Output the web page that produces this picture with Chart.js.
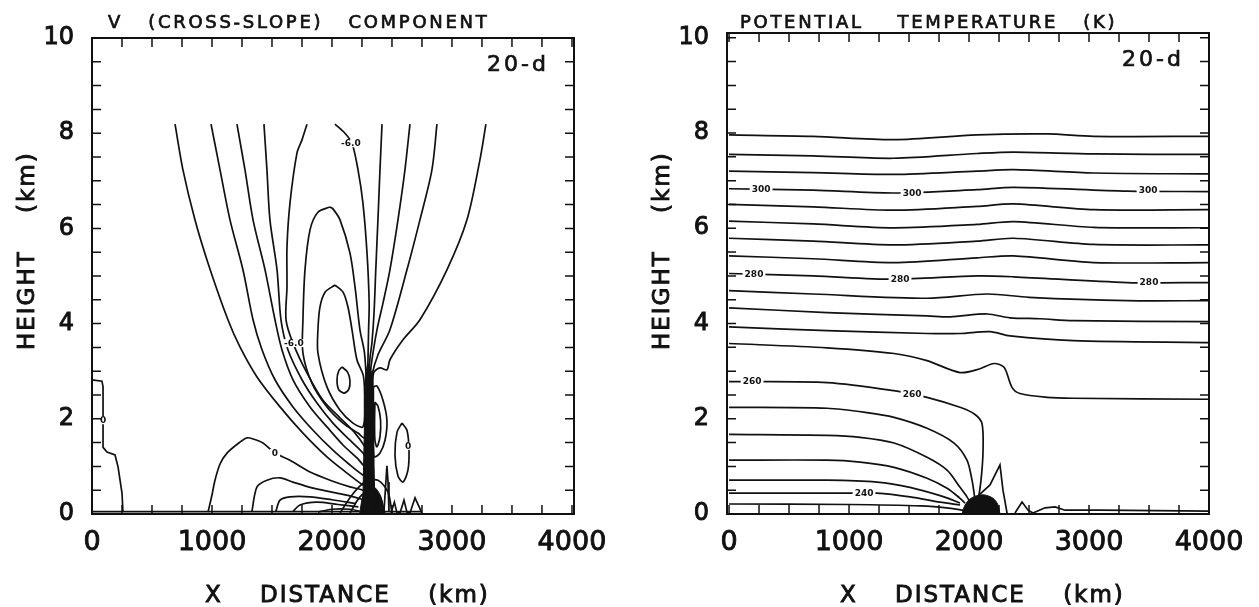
<!DOCTYPE html>
<html>
<head>
<meta charset="utf-8">
<script src="https://cdn.jsdelivr.net/npm/chart.js@4.4.1/dist/chart.umd.min.js"></script>
<style>
  html, body { margin: 0; padding: 0; background: #fff; }
  #wrap { position: relative; width: 1259px; height: 607px; }
  canvas { position: absolute; top: 0; }
  #vChart { left: 0; }
  #thetaChart { left: 630px; }
</style>
</head>
<body>
<div id="wrap">
  <canvas id="vChart" width="630" height="607"></canvas>
  <canvas id="thetaChart" width="629" height="607"></canvas>
</div>
<script>
// axis ticks (km)
const xTicks = [0, 1000, 2000, 3000, 4000];
const yTicks = [0, 2, 4, 6, 8, 10];

// ---- v (cross-slope) contours, [x km, height km] ----
// nested open contours: down from the top on the left, through the jet core, back up on the right
const vU1 = [[692,8.19],[758,7.23],[858,6.18],[967,5.27],[1133,4.08],[1233,3.51],[1375,2.88],[1567,2.25],[1758,1.70],[1958,1.20],[2125,0.86],[2258,0.61],[2333,0.55],[2345,1.1],[2340,2.0],[2340,2.75],[2350,2.98],[2400,3.07],[2458,3.03],[2483,3.24],[2592,3.66],[2733,4.08],[2958,5.13],[3125,6.18],[3233,7.44],[3283,8.19]];
const vU2 = [[992,8.19],[1067,7.23],[1150,6.18],[1258,5.13],[1342,4.08],[1417,3.45],[1525,2.82],[1675,2.25],[1842,1.76],[2008,1.34],[2150,1.03],[2258,0.82],[2317,0.76],[2330,1.3],[2328,2.0],[2330,2.7],[2333,2.92],[2383,3.34],[2483,3.87],[2625,5.13],[2733,6.18],[2833,7.23],[2875,8.19]];
const vU3 = [[1208,8.19],[1275,7.23],[1342,6.18],[1442,5.13],[1525,4.08],[1583,3.45],[1675,2.82],[1817,2.25],[1958,1.83],[2092,1.45],[2208,1.18],[2292,0.97],[2315,1.4],[2315,2.2],[2318,2.9],[2333,3.24],[2375,3.87],[2425,4.43],[2483,5.13],[2550,6.18],[2608,7.23],[2650,8.19]];
const vU4 = [[1433,8.19],[1458,7.23],[1483,6.18],[1542,5.13],[1575,4.08],[1633,3.45],[1750,2.82],[1875,2.33],[2008,1.91],[2150,1.55],[2258,1.28],[2300,1.09],[2303,1.6],[2303,2.4],[2308,3.0],[2318,3.3],[2333,3.6],[2350,4.2],[2365,5.13],[2383,6.18],[2400,7.23],[2417,8.19]];
const vMinus6 = [[1792,8.19],[1750,7.86],[1708,7.58],[1650,6.53],[1625,5.61],[1625,4.77],[1617,4.08],[1675,3.59],[1792,2.96],[1925,2.39],[2067,2.02],[2192,1.70],[2275,1.41],[2290,1.3],[2292,1.8],[2292,2.5],[2298,3.0],[2305,3.87],[2310,4.43],[2292,5.48],[2258,6.53],[2217,7.23],[2167,7.79],[2108,8.0],[2025,8.19]];
// closed cells inside the -6 contour
const vCell1 = [[1983,6.45],[1883,6.34],[1817,5.97],[1775,5.13],[1758,4.08],[1758,3.38],[1833,2.75],[1958,2.25],[2092,1.91],[2217,1.70],[2275,1.60],[2283,2.2],[2285,2.8],[2270,3.4],[2233,3.87],[2192,4.77],[2150,5.48],[2067,6.18],[2008,6.41],[1983,6.45]];
const vCell2 = [[2025,4.81],[1942,4.66],[1900,4.35],[1883,3.87],[1883,3.38],[1958,2.67],[2067,2.18],[2175,1.91],[2258,1.83],[2272,2.3],[2262,2.9],[2208,3.24],[2167,3.87],[2133,4.35],[2092,4.66],[2025,4.81]];
const vCell3 = [[2083,3.09],[2130,2.98],[2150,2.8],[2140,2.62],[2100,2.54],[2055,2.62],[2042,2.82],[2055,3.0],[2083,3.09]];
// low-level contours
const vZero = [[967,0.04],[1000,0.4],[1025,0.71],[1067,1.05],[1125,1.28],[1233,1.51],[1292,1.60],[1350,1.57],[1425,1.49],[1525,1.28],[1650,1.13],[1817,0.88],[1983,0.71],[2150,0.57],[2258,0.50],[2333,0.40]];
const vLow1 = [[1333,0.06],[1375,0.57],[1458,0.71],[1567,0.76],[1675,0.67],[1833,0.55],[2000,0.46],[2150,0.38],[2260,0.3]];
const vLow2 = [[1533,0.06],[1567,0.29],[1650,0.36],[1817,0.36],[2000,0.3],[2200,0.22]];
const vLow3 = [[1675,0.05],[1733,0.19],[1875,0.25],[2050,0.2],[2220,0.15]];
const vLow4 = [[1883,0.04],[2000,0.1],[2150,0.1],[2230,0.06]];
const vArch1 = [[2067,0.02],[2167,0.4],[2275,0.67],[2383,0.71],[2467,0.46],[2500,0.02]];
const vArch2 = [[2150,0.02],[2230,0.35],[2310,0.48],[2390,0.4],[2440,0.02]];
const vEdgeZero = [[0,2.82],[83,2.79],[92,2.67],[92,1.97],[92,1.40],[125,1.30],[192,1.24],[217,0.99],[250,0.44],[258,0.04]];
const vSurface = [[0,0.05],[2750,0.05]];
// cells east of the jet core
const vEast1 = [[2345,2.67],[2375,2.69],[2425,2.39],[2458,1.97],[2442,1.55],[2400,1.28],[2355,1.20],[2345,1.34],[2345,1.97],[2345,2.39],[2345,2.67]];
const vEast2 = [[2358,2.35],[2383,2.27],[2405,1.97],[2400,1.62],[2375,1.41],[2358,1.55],[2355,1.97],[2358,2.35]];
const vZeroEast = [[2583,1.91],[2625,1.76],[2642,1.34],[2633,0.92],[2592,0.67],[2550,0.80],[2525,1.24],[2542,1.72],[2583,1.91]];
const vSpike = [[2433,0.04],[2450,0.71],[2458,1.01],[2467,0.67],[2475,0.04]];
const vRipples = [[2492,0.02],[2520,0.25],[2540,0.04],[2567,0.02],[2600,0.29],[2625,0.04],[2650,0.02],[2692,0.34],[2750,0.02]];
// solid-looking packed core and surface mass
const vCoreFill = [[2255,0],[2265,1.2],[2272,2.0],[2282,2.9],[2302,3.15],[2335,2.9],[2345,2.0],[2350,1.0],[2362,0]];
const vMassFill = [[2230,0],[2260,0.4],[2310,0.58],[2360,0.55],[2410,0.35],[2440,0]];
// contour value labels [x, height, text]
const vLabels = [[2158,7.79,'-6.0'],[1683,3.59,'-6.0'],[92,1.97,'0'],[1525,1.28,'0'],[2635,1.43,'0']];

// ---- potential temperature contours ----
const th01 = [[0,7.96],[700,7.93],[1372,7.86],[2067,7.96],[2650,7.98],[3039,7.93],[4000,7.93]];
const th02 = [[0,7.55],[700,7.52],[1372,7.47],[2067,7.57],[2372,7.60],[3039,7.56],[4000,7.55]];
const th03 = [[0,7.20],[700,7.17],[1372,7.13],[2067,7.20],[2372,7.23],[3039,7.16],[4000,7.14]];
const th04 = [[0,6.83],[700,6.80],[1372,6.74],[2067,6.81],[2372,6.86],[3317,6.78],[4000,6.77]];
const th05 = [[0,6.50],[700,6.45],[1372,6.38],[2067,6.46],[2372,6.51],[3039,6.39],[4000,6.39]];
const th06 = [[0,6.15],[700,6.09],[1372,6.01],[2067,6.08],[2372,6.14],[3039,6.02],[4000,6.01]];
const th07 = [[0,5.79],[700,5.73],[1372,5.65],[2067,5.73],[2372,5.79],[3039,5.66],[4000,5.65]];
const th08 = [[0,5.42],[700,5.36],[1372,5.28],[2067,5.38],[2372,5.42],[3039,5.28],[4000,5.28]];
const th09 = [[0,5.05],[700,5.00],[1372,4.93],[2067,5.00],[2372,4.98],[3317,4.86],[4000,4.86]];
const th10 = [[0,4.69],[700,4.62],[1650,4.53],[2150,4.62],[2500,4.55],[3317,4.48],[4000,4.48]];
const th11 = [[0,4.33],[817,4.23],[1650,4.16],[1842,4.14],[2150,4.20],[2342,4.12],[2592,4.10],[2867,4.06],[4000,4.04]];
const th12 = [[0,3.93],[817,3.85],[1650,3.79],[1925,3.79],[2175,3.83],[2342,3.74],[2867,3.64],[4000,3.60]];
const th13 = [[0,3.58],[817,3.49],[1375,3.37],[1650,3.22],[1925,2.97],[2092,3.05],[2208,3.16],[2292,3.08],[2358,2.66],[2425,2.53],[2650,2.45],[2867,2.43],[4000,2.41]];
const th14 = [[0,2.78],[817,2.76],[1375,2.59],[1650,2.45],[1925,2.24],[2050,2.09],[2108,1.90],[2117,1.34],[2100,0.71],[2075,0.29],[2050,0.08]];
const th15 = [[0,2.24],[817,2.22],[1150,2.13],[1375,2.03],[1650,1.80],[1875,1.49],[1983,1.13],[2025,0.71],[2042,0.44],[2050,0.29]];
const th16 = [[0,1.67],[817,1.65],[1092,1.61],[1375,1.49],[1650,1.19],[1817,0.92],[1925,0.56],[1983,0.36],[2008,0.25]];
const th17 = [[0,1.13],[817,1.13],[1092,1.09],[1375,0.98],[1650,0.75],[1817,0.54],[1925,0.33],[1967,0.23]];
const th18 = [[0,0.71],[817,0.71],[1233,0.67],[1508,0.56],[1792,0.36],[1925,0.23]];
const th19 = [[0,0.44],[1042,0.44],[1233,0.44],[1508,0.36],[1758,0.25],[1925,0.19]];
const th20 = [[0,0.21],[1000,0.20],[1600,0.17],[1850,0.12],[1950,0.08]];
const thSpike = [[2067,0.36],[2175,0.61],[2258,1.03],[2283,0.50],[2317,0.02]];
const thTail = [[2383,0.02],[2442,0.25],[2492,0.08],[2533,0.02],[2633,0.13],[2717,0.15],[2800,0.08],[3092,0.08],[4000,0.06]];
const thBlob = [[1942,0],[1960,0.15],[2000,0.3],[2060,0.38],[2130,0.4],[2200,0.33],[2240,0.2],[2258,0]];
const thLabels = [[267,6.82,'300'],[1525,6.74,'300'],[3492,6.80,'300'],[208,5.04,'280'],[1425,4.94,'280'],[3500,4.86,'280'],[192,2.78,'260'],[1525,2.51,'260'],[1125,0.44,'240']];

const FONT = '"DejaVu Sans", "Liberation Sans", sans-serif';
const INK = '#111';

function contour(points, tension = 0.3) {
  return { data: points, showLine: true, borderColor: INK, borderWidth: 1.7,
           pointRadius: 0, tension, fill: false };
}
function blob(points) {
  return { data: points, showLine: true, borderColor: INK, borderWidth: 1,
           backgroundColor: INK, pointRadius: 0, tension: 0.3, fill: 'origin' };
}

// filled text with a thin outline so it reads as heavy as the axis lettering
function boldText(ctx, text, x, y) {
  ctx.strokeText(text, x, y);
  ctx.fillText(text, x, y);
}

// frame, inward ticks, contour labels and the panel texts
const panelDecor = {
  id: 'panelDecor',
  afterDatasetsDraw(chart, args, o) {
    const { ctx, chartArea: a, scales: { x, y } } = chart;
    ctx.save();
    ctx.font = `bold 9px ${FONT}`;
    ctx.textAlign = 'center';
    ctx.textBaseline = 'middle';
    for (const [vx, vy, text] of o.labels) {
      const px = x.getPixelForValue(vx), py = y.getPixelForValue(vy);
      const w = ctx.measureText(text).width + 4;
      ctx.fillStyle = '#fff';
      ctx.fillRect(px - w / 2, py - 4, w, 8);
      ctx.fillStyle = INK;
      ctx.fillText(text, px, py + 0.5);
    }
    ctx.strokeStyle = INK;
    ctx.lineWidth = 2;
    ctx.strokeRect(a.left, a.top, a.right - a.left, a.bottom - a.top);
    ctx.lineWidth = 1.5;
    ctx.beginPath();
    for (let v = 0; v <= 4000; v += 250) {
      const px = x.getPixelForValue(v);
      ctx.moveTo(px, a.top); ctx.lineTo(px, a.top + 9);
      ctx.moveTo(px, a.bottom); ctx.lineTo(px, a.bottom - 9);
    }
    for (let v = 0; v <= 10; v += 0.5) {
      const py = y.getPixelForValue(v);
      ctx.moveTo(a.left, py); ctx.lineTo(a.left + 9, py);
      ctx.moveTo(a.right, py); ctx.lineTo(a.right - 9, py);
    }
    ctx.stroke();
    ctx.restore();
  },
  afterDraw(chart, args, o) {
    const { ctx, chartArea: a } = chart;
    ctx.save();
    ctx.fillStyle = INK;
    ctx.strokeStyle = INK;
    ctx.lineWidth = 0.7;
    ctx.textBaseline = 'alphabetic';
    ctx.textAlign = 'left';
    ctx.font = `18px ${FONT}`;
    ctx.letterSpacing = '2.7px';
    boldText(ctx, o.title, a.left + o.titleOffset, 28);
    ctx.font = `22px ${FONT}`;
    ctx.letterSpacing = '3px';
    ctx.textAlign = 'right';
    boldText(ctx, '20-d', a.right - 25, a.top + 33);
    ctx.textAlign = 'left';
    ctx.font = `23px ${FONT}`;
    ctx.letterSpacing = '2px';
    ctx.lineWidth = 0.9;
    boldText(ctx, 'X    DISTANCE    (km)', a.left + 113, 602);
    ctx.translate(a.left - 58, 350);
    ctx.rotate(-Math.PI / 2);
    boldText(ctx, 'HEIGHT    (km)', 0, 0);
    ctx.restore();
  }
};

function makePanel(id, cfg) {
  const datasets = [
    ...cfg.fills.map(blob),
    ...cfg.lines.map(p => contour(p)),
    ...cfg.sharp.map(p => contour(p, 0))
  ];
  return new Chart(document.getElementById(id), {
    type: 'scatter',
    data: { datasets },
    options: {
      responsive: false,
      animation: false,
      devicePixelRatio: 1,
      layout: { padding: { top: cfg.top, right: cfg.right, left: 0, bottom: 0 } },
      plugins: {
        legend: { display: false },
        tooltip: { enabled: false },
        panelDecor: { labels: cfg.labels, title: cfg.title, titleOffset: cfg.titleOffset }
      },
      scales: {
        x: {
          type: 'linear', min: cfg.xMin, max: cfg.xMax,
          grid: { display: false }, border: { display: false },
          afterBuildTicks: s => { s.ticks = xTicks.map(v => ({ value: v })); },
          afterFit: s => { s.height = 93; },
          ticks: { color: INK, font: { family: FONT, size: 27 }, padding: 5,
                   textStrokeColor: INK, textStrokeWidth: 0.9,
                   maxRotation: 0, autoSkip: false, callback: v => String(v) }
        },
        y: {
          type: 'linear', min: 0, max: cfg.yMax,
          grid: { display: false }, border: { display: false },
          afterBuildTicks: s => { s.ticks = yTicks.map(v => ({ value: v })); },
          afterFit: s => { s.width = cfg.left; },
          ticks: { color: INK, font: { family: FONT, size: 24 }, padding: 10,
                   textStrokeColor: INK, textStrokeWidth: 0.9,
                   autoSkip: false, callback: v => String(v) }
        }
      }
    },
    plugins: [panelDecor]
  });
}

makePanel('vChart', {
  title: 'V   (CROSS-SLOPE)   COMPONENT', titleOffset: 16,
  xMin: 0, xMax: 4017, yMax: 10, top: 38, right: 56, left: 92,
  fills: [vCoreFill, vMassFill],
  lines: [vU1, vU2, vU3, vU4, vMinus6, vCell1, vCell2, vCell3, vZero, vLow1, vLow2, vLow3, vLow4,
          vArch1, vArch2, vEast1, vEast2, vZeroEast],
  sharp: [vEdgeZero, vSurface, vSpike, vRipples],
  labels: vLabels
});

makePanel('thetaChart', {
  title: 'POTENTIAL    TEMPERATURE   (K)', titleOffset: 13,
  xMin: -17, xMax: 4000, yMax: 10.1, top: 33, right: 50, left: 97,
  fills: [thBlob],
  lines: [th01, th02, th03, th04, th05, th06, th07, th08, th09, th10, th11, th12, th13,
          th14, th15, th16, th17, th18, th19, th20],
  sharp: [thSpike, thTail],
  labels: thLabels
});
</script>
</body>
</html>
